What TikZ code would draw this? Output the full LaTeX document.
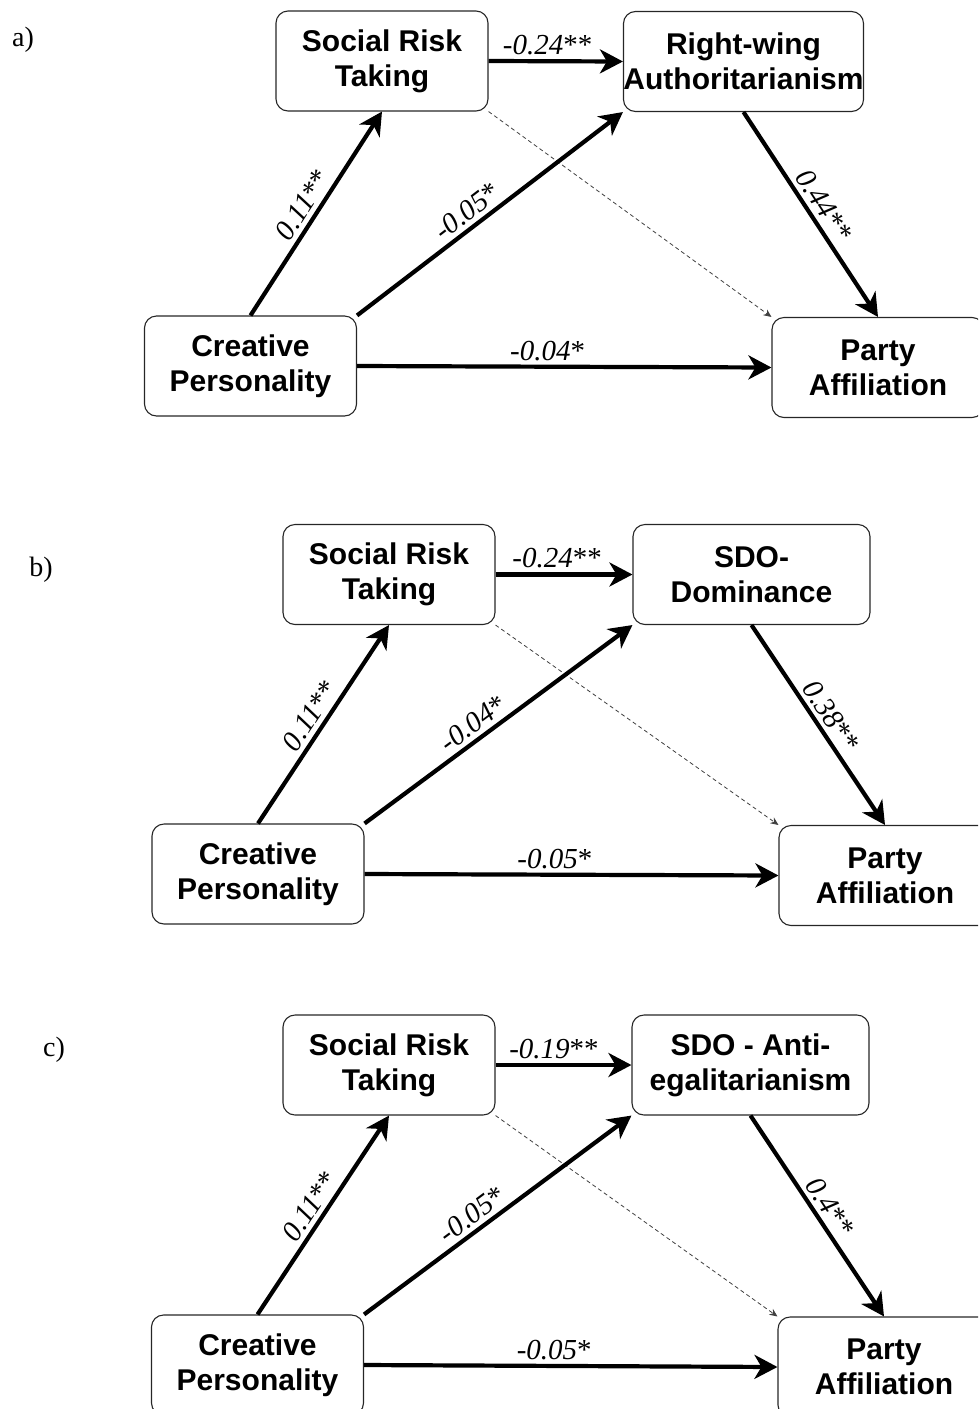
\documentclass[tikz,border=0pt]{standalone}
\usepackage{fontspec}
\setmainfont{Liberation Serif}
\newfontfamily\boxfont{Liberation Sans}
\usetikzlibrary{arrows.meta}
\newcommand{\st}[1]{\textup{#1}}
\begin{document}
\begin{tikzpicture}[x=1pt,y=-1pt,
  box/.style={draw=black!85, line width=1.1pt, rounded corners=12pt,
    minimum width=212pt, minimum height=100pt, inner sep=0pt, align=center,
    font=\boxfont\bfseries\fontsize{30}{35}\selectfont, text=black},
  wbox/.style={box, minimum width=237pt},
  conn/.style={line width=4.2pt, -{Stealth[length=23pt,width=24pt,inset=7pt]}},
  dconn/.style={line width=0.8pt, dash pattern=on 4pt off 3pt, draw=black!75,
    -{Stealth[length=8pt,width=7pt]}},
  lbl/.style={font=\itshape\fontsize{29}{32}\selectfont, inner sep=4pt},
  plabel/.style={font=\fontsize{28}{30}\selectfont}
]
\useasboundingbox (0,0) rectangle (978,1409);
\clip (0,0) rectangle (978,1409);

% ---------- panel a ----------
\node[plabel] (la) at (23,40) {a)};
\node[box]  (aS) at (382,61) {Social Risk\\Taking};
\node[wbox] (aM) at (743.5,61.5) {Right-wing\\Authoritarianism};
\node[box]  (aC) at (250.5,366) {Creative\\Personality};
\node[box]  (aP) at (878,367.5) {Party\\Affiliation};
\draw[dconn] (aS.south east) -- (aP.north west);
\draw[conn] (aC.north) -- (aS.south) node[lbl,sloped,midway,above] {0.11\st{**}};
\draw[conn] (aC.north east) -- (aM.south west) node[lbl,sloped,pos=0.45,above] {-0.05\st{*}};
\draw[conn] (aS.east) -- (aM.west) node[lbl,pos=0.44,above] {-0.24\st{**}};
\draw[conn] (aM.south) -- (aP.north) node[lbl,sloped,midway,above] {0.44\st{**}};
\draw[conn] (aC.east) -- (aP.west) node[lbl,pos=0.46,above] {-0.04\st{*}};

% ---------- panel b ----------
\node[plabel] (lb) at (41,570) {b)};
\node[box]  (bS) at (389,574.5) {Social Risk\\Taking};
\node[wbox] (bM) at (751.5,574.5) {SDO-\\Dominance};
\node[box]  (bC) at (258,874) {Creative\\Personality};
\node[box]  (bP) at (885,875.5) {Party\\Affiliation};
\draw[dconn] (bS.south east) -- (bP.north west);
\draw[conn] (bC.north) -- (bS.south) node[lbl,sloped,midway,above] {0.11\st{**}};
\draw[conn] (bC.north east) -- (bM.south west) node[lbl,sloped,pos=0.44,above] {-0.04\st{*}};
\draw[conn] (bS.east) -- (bM.west) node[lbl,pos=0.45,above] {-0.24\st{**}};
\draw[conn] (bM.south) -- (bP.north) node[lbl,sloped,midway,above] {0.38\st{**}};
\draw[conn] (bC.east) -- (bP.west) node[lbl,pos=0.46,above] {-0.05\st{*}};

% ---------- panel c ----------
\node[plabel] (lc) at (54,1050) {c)};
\node[box]  (cS) at (389,1065) {Social Risk\\Taking};
\node[wbox] (cM) at (750.5,1065) {SDO - Anti-\\egalitarianism};
\node[box]  (cC) at (257.5,1365) {Creative\\Personality};
\node[box]  (cP) at (884,1367) {Party\\Affiliation};
\draw[dconn] (cS.south east) -- (cP.north west);
\draw[conn] (cC.north) -- (cS.south) node[lbl,sloped,midway,above] {0.11\st{**}};
\draw[conn] (cC.north east) -- (cM.south west) node[lbl,sloped,pos=0.44,above] {-0.05\st{*}};
\draw[conn] (cS.east) -- (cM.west) node[lbl,pos=0.43,above] {-0.19\st{**}};
\draw[conn] (cM.south) -- (cP.north) node[lbl,sloped,midway,above] {0.4\st{**}};
\draw[conn] (cC.east) -- (cP.west) node[lbl,pos=0.46,above] {-0.05\st{*}};
\end{tikzpicture}
\end{document}
